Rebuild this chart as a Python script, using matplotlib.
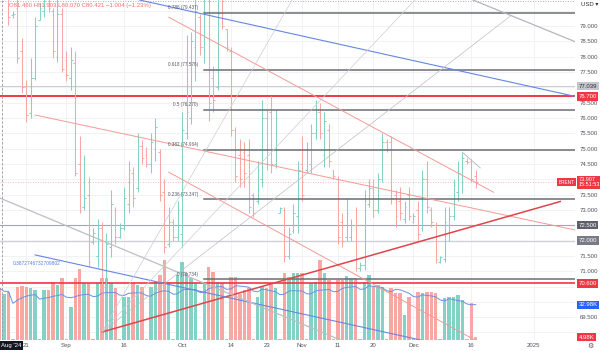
import matplotlib
matplotlib.use("Agg")
import matplotlib.pyplot as plt
import matplotlib.transforms as mtransforms
import numpy as np
import pandas as pd

plt.rcParams['font.family'] = ['Liberation Sans', 'DejaVu Sans']

# === Data ===
# daily bars incl. the short Sunday session, no Saturdays
calendar = pd.date_range('2024-08-14', '2025-01-20')
calendar = calendar[calendar.dayofweek != 5]

opens = [81.46, 80.4, 80.6, 79.35, 79.6, 78.2, 77.0, 76.15, 77.3, 79.2,
         79.5, 80.2, 79.5, 78.0, 79.4, 77.9, 77.3, 77.8, 74.5, 73.1,
         73.5, 71.95, 71.5, 72.4, 70.6, 71.8, 73.0, 72.1, 72.4, 73.2,
         74.2, 73.7, 75.1, 74.8, 74.5, 75.0, 74.9, 73.6, 71.9, 72.6,
         72.1, 72.2, 75.5, 76.0, 78.3, 79.3, 78.3, 80.9, 77.3, 77.0,
         80.0, 78.9, 78.2, 75.6, 74.8, 74.9, 74.8, 73.5, 73.3, 74.0,
         76.0, 76.2, 74.5, 72.9, 73.0, 71.5, 72.3, 72.8, 74.5, 74.3,
         74.5, 75.5, 76.2, 74.8, 75.6, 74.3, 74.0, 72.6, 72.1, 72.1,
         72.5, 71.1, 71.2, 73.2, 73.7, 73.0, 74.0, 75.2, 75.2, 73.5,
         73.3, 72.7, 73.5, 72.6, 73.0, 72.4, 74.0, 73.0, 72.5, 71.3,
         71.4, 72.5, 72.8, 73.6, 73.9, 74.6, 74.6, 74.1]
highs = [81.903, 81.0, 80.7, 79.5, 79.9, 78.6, 77.24, 77.96, 79.3, 79.75,
         80.4, 80.5, 79.6, 79.9, 79.6, 78.2, 78.3, 78.2, 75.4, 74.8,
         74.07, 72.4, 72.7, 72.6, 72.25, 73.65, 73.1, 72.57, 73.75, 74.6,
         74.4, 75.5, 75.28, 75.05, 75.5, 76.0, 75.0, 74.0, 73.1, 72.7,
         73.3, 76.2, 78.7, 78.8, 80.2, 79.4, 81.2, 81.0, 77.7, 80.0,
         80.3, 78.9, 78.3, 75.7, 75.3, 75.2, 75.3, 73.55, 74.6, 76.6,
         76.26, 76.7, 76.26, 73.1, 73.1, 72.45, 73.2, 74.6, 75.4, 75.2,
         75.8, 76.6, 76.5, 76.2, 75.8, 74.3, 74.1, 72.9, 73.4, 72.7,
         73.1, 71.3, 73.65, 74.0, 74.0, 74.2, 75.5, 75.3, 75.4, 73.65,
         73.75, 73.3, 73.75, 72.9, 73.3, 74.3, 74.6, 73.1, 72.6, 71.5,
         73.1, 73.1, 74.0, 74.6, 74.85, 74.7, 74.65, 74.3]
lows = [80.07, 80.0, 79.03, 79.25, 77.8, 76.8, 75.87, 76.0, 77.24, 79.2,
        79.3, 79.45, 77.96, 77.83, 77.5, 77.2, 76.9, 74.1, 72.9, 73.0,
        71.14, 71.9, 71.15, 70.3, 70.4, 71.46, 71.9, 72.08, 72.34, 72.9,
        73.1, 73.6, 74.5, 74.4, 74.2, 74.6, 73.3, 71.6, 71.8, 72.0,
        72.0, 71.8, 75.3, 75.8, 77.2, 78.05, 77.8, 75.9, 76.2, 76.9,
        78.9, 78.2, 75.4, 73.9, 73.75, 73.75, 72.9, 72.77, 73.2, 73.75,
        74.3, 74.2, 74.37, 72.9, 71.3, 71.4, 72.25, 72.25, 73.3, 74.2,
        74.2, 75.3, 75.3, 74.4, 74.4, 74.0, 71.9, 71.8, 72.0, 72.0,
        71.0, 71.0, 71.04, 73.1, 72.77, 72.9, 73.9, 74.9, 73.2, 72.45,
        72.67, 72.57, 72.67, 72.57, 72.0, 72.3, 72.9, 72.45, 71.27, 71.27,
        71.3, 72.0, 72.67, 73.3, 73.55, 74.5, 73.9, 73.7]
closes = [80.421, 80.8, 79.3, 79.4, 77.95, 77.0, 76.1, 77.3, 79.0, 79.6,
          80.2, 79.6, 78.2, 79.4, 77.6, 77.4, 77.9, 74.2, 73.0, 73.4,
          71.3, 72.25, 72.4, 70.5, 71.9, 73.2, 72.1, 72.4, 73.4, 74.3,
          73.4, 75.1, 74.7, 74.5, 75.2, 75.7, 73.5, 71.8, 72.6, 72.1,
          73.0, 75.6, 76.2, 78.5, 79.5, 78.3, 80.9, 76.5, 76.6, 79.4,
          79.0, 78.3, 75.6, 74.1, 74.0, 74.2, 73.1, 72.9, 74.3, 76.0,
          74.9, 74.5, 76.0, 73.05, 71.5, 72.2, 72.9, 74.3, 73.5, 75.0,
          75.5, 76.2, 75.5, 75.9, 74.6, 74.1, 72.1, 72.0, 72.9, 72.5,
          71.1, 71.2, 73.3, 73.7, 73.0, 74.0, 75.2, 75.0, 73.4, 72.8,
          72.9, 73.1, 72.8, 72.8, 72.2, 74.0, 73.1, 72.6, 71.4, 71.45,
          72.6, 72.8, 73.8, 74.2, 74.7, 74.55, 74.0, 73.907]
volume_k = [47.6, 42.3, 44.7, 3, 48.5, 49.6, 49, 47.6, 46.2, 3,
            46.2, 46.2, 53.4, 50.5, 56.3, 3, 31.5, 56.3, 64.2, 52.5,
            52.5, 3, 52.5, 56.3, 56.3, 52, 47.6, 3, 40.3, 40.3,
            52, 50.5, 49, 3, 49, 53.4, 59.2, 72, 53.4, 3,
            59.2, 70.9, 60.7, 56.3, 52.5, 3, 52, 66, 62.1, 53.4,
            52, 3, 57.8, 57.8, 43, 46, 48, 3, 40, 50,
            48, 52, 47.6, 3, 60.7, 57.8, 60.7, 60.7, 60.7, 3,
            52.5, 53.4, 72, 60.7, 54.5, 3, 54.5, 54.5, 58.5, 57,
            56.3, 3, 53.4, 59.2, 49, 50.5, 49, 3, 47.6, 43.2,
            43.2, 24.3, 40.3, 3, 44.7, 43.2, 44.7, 44.7, 43.2, 3,
            38.8, 39.7, 40.3, 41.8, 37.4, 3, 35, 4.98]

price_ticks = [69.5, 71.0, 71.5, 73.0, 73.5, 74.5, 75.0, 75.5, 76.0, 76.5,
               77.5, 78.0, 78.5, 79.0]
tick_dates = ['2024-08-21', '2024-09-01', '2024-09-16', '2024-10-01', '2024-10-14',
              '2024-10-23', '2024-11-01', '2024-11-11', '2024-11-20', '2024-12-01',
              '2024-12-16', '2025-01-01']
tick_labels = ['21', 'Sep', '16', 'Oct', '14', '23', 'Nov', '11', '20', 'Dec', '16', '2025']

fib_ratios = [0.786, 0.618, 0.5, 0.382, 0.236, 0]
fib_prices = [79.437, 77.576, 76.270, 74.964, 73.347, 70.734]
fib_start = '2024-10-07'

last_price = 73.907
crosshair_price = 77.039
legend_text = 'O81.460 H81.903 L80.070 C80.421 \u22121.004 (\u22121.23%)'

# drawings: (date0, price0, date1, price1, mode, color, width)
trendlines = [
    ('2024-09-20', 79.83, '2024-12-17', 77.42, 'line', '#6686e2', 0.8),
    ('2024-12-17', 79.81, '2025-01-01', 79.04, 'line', '#b4b6bd', 0.9),
    ('2024-08-23', 76.095, '2024-12-17', 73.034, 'ray', '#f49a94', 0.7),
    ('2024-09-27', 79.287, '2024-12-22', 73.576, 'seg', '#f49a94', 0.7),
    ('2024-09-27', 74.231, '2024-12-11', 69.137, 'ray', '#f49a94', 0.7),
    ('2024-09-10', 69.015, '2025-01-08', 73.274, 'seg', '#e0454a', 1.1),
    ('2024-08-23', 71.53, '2024-11-22', 69.03, 'ray', '#6686e2', 0.8),
    ('2024-08-14', 73.39, '2024-10-07', 70.607, 'line', '#bcbec4', 0.9),
    ('2024-09-10', 69.016, '2024-10-30', 79.92, 'ray', '#cbcdd2', 0.5),
    ('2024-09-10', 69.016, '2024-11-22', 78.72, 'ray', '#cbcdd2', 0.5),
    ('2024-09-10', 69.016, '2024-12-26', 79.35, 'seg', '#bcbec4', 0.5),
    ('2024-12-13', 74.88, '2024-12-18', 74.37, 'seg', '#b4b6bd', 0.6),
]
blue_label = '0.3872746732709802'

UP = '#84d1c6'
DOWN = '#f7a8a4'
RED = '#f23645'

pos = {d.strftime('%Y-%m-%d'): i for i, d in enumerate(calendar)}
n = len(closes)
x = np.arange(n)
up = np.array(closes) >= np.array(opens)
col = np.where(up, UP, DOWN)

# === Figure ===
fig = plt.figure(figsize=(6, 3.51), dpi=100)
ax_vol = fig.add_axes([0, 11 / 351, 575 / 600, 340 / 351])
ax = ax_vol.twinx()

XLIM = (0.09, 129.3)
YLIM = (68.755, 79.848)
ax_vol.set_xlim(*XLIM)
ax.set_ylim(*YLIM)
ax_vol.set_ylim(2.36, 299.8)

# grid (behind the volume)
tick_pos = [pos[d] for d in tick_dates]
vtrans = mtransforms.blended_transform_factory(ax_vol.transData, ax_vol.transAxes)
htrans = mtransforms.blended_transform_factory(ax_vol.transAxes, ax.transData)
for tp in tick_pos:
    ax_vol.plot([tp, tp], [0, 1], transform=vtrans, color='#f0f2f6', lw=0.7, zorder=0)
for lvl in np.arange(69.0, 80.0, 0.5):
    ax_vol.plot([0, 1], [lvl, lvl], transform=htrans, color='#f0f2f6', lw=0.7, zorder=0)

# volume + MA
ax_vol.bar(x, volume_k, width=0.78, color=col, zorder=2)
vol_ma = pd.Series(volume_k).rolling(20, min_periods=1).mean()
ax_vol.plot(x, vol_ma, color='#6d8fe6', lw=0.7, zorder=3)

# horizontal levels
ax.axhline(76.700, color=RED, lw=1.4, zorder=2)
ax.axhline(70.600, color=RED, lw=1.2, zorder=2)
ax.axhline(72.500, color='#a3a6ae', lw=0.8, zorder=2)
ax.axhline(72.000, color='#cfd1d6', lw=1.0, zorder=2)
ax.axhline(crosshair_price, color='#c2c4ca', lw=0.6, zorder=2)
ax.axhline(last_price, color=RED, lw=0.6, ls=(0, (1, 2)), alpha=0.45, zorder=2)
ax.plot([0.003, 0.003], [0, 1], transform=ax.transAxes, color='#9598a1', lw=0.6,
        ls=(0, (3, 2)), zorder=2)
ax.plot([0, 1], [0.997, 0.997], transform=ax.transAxes, color='#9598a1', lw=0.6,
        ls=(0, (1, 2)), zorder=2)

# OHLC bars
ax.vlines(x, lows, highs, colors=col, lw=0.75, zorder=3)
ax.hlines(opens, x - 0.4, x, colors=col, lw=0.75, zorder=3)
ax.hlines(closes, x, x + 0.4, colors=col, lw=0.75, zorder=3)

# fib retracement
x_fib = pos[fib_start]
for r, p in zip(fib_ratios, fib_prices):
    ax.plot([x_fib, XLIM[1]], [p, p], color='#6b6d73', lw=1.1, zorder=4)
    ax.annotate(f'{r} ({p:.3f})', xy=(x_fib, p), xytext=(-4.5, 3.4),
                textcoords='offset points', ha='right', va='center',
                fontsize=3.3, color='#555861', zorder=5)

# trendlines
for d0, p0, d1, p1, mode, c, w in trendlines:
    x0, x1 = pos[d0], pos[d1]
    if mode == 'line':
        ax.axline((x0, p0), (x1, p1), color=c, lw=w, zorder=4)
    elif mode == 'ray':
        slope = (p1 - p0) / (x1 - x0)
        xe = XLIM[1] + 5
        ax.plot([x0, xe], [p0, p0 + slope * (xe - x0)], color=c, lw=w, zorder=4)
    else:
        ax.plot([x0, x1], [p0, p1], color=c, lw=w, zorder=4)

b2 = trendlines[6]
ax.annotate(blue_label, xy=(pos[b2[0]], b2[1]), xytext=(-16.5, -5.8),
            textcoords='offset points', ha='left', va='center',
            fontsize=3.5, color='#5b7fe0', zorder=5)

ax_vol.set_xlim(*XLIM)
ax.set_ylim(*YLIM)

# axes styling
for a in (ax, ax_vol):
    for s in a.spines.values():
        s.set_visible(False)
ax_vol.yaxis.set_visible(False)
ax_vol.set_xticks(tick_pos)
ax_vol.set_xticklabels(tick_labels)
ax_vol.tick_params(axis='x', length=0, labelsize=4.3, colors='#50535e', pad=2.2)
ax.set_yticks(price_ticks)
ax.set_yticklabels([f'{t:.3f}' for t in price_ticks])
ax.tick_params(axis='y', length=0, labelsize=4.3, colors='#50535e', pad=3.6)

# price scale label boxes
ytr = ax.get_yaxis_transform()
def price_box(val, text, fc, tc='white'):
    ax.text(1.006, val, text, transform=ytr, ha='left', va='center', fontsize=4.3,
            color=tc, zorder=10, clip_on=False,
            bbox=dict(boxstyle='square,pad=0.28', fc=fc, ec='none'))

price_box(crosshair_price, f'{crosshair_price:.3f}', '#c4c6cc', '#2a2e39')
price_box(76.700, '76.700', RED)
price_box(72.500, '72.500', '#5d606b')
price_box(72.000, '72.000', '#787b86')
price_box(70.600, '70.600', RED)
ax.text(1.006, last_price, f'{last_price:.3f}\n15:51:53', transform=ytr, ha='left',
        va='center', fontsize=4.0, color='white', linespacing=1.05, zorder=10,
        clip_on=False, bbox=dict(boxstyle='square,pad=0.25', fc=RED, ec='none'))
ax.text(0.9985, last_price, 'BRENT', transform=ytr, ha='right', va='center',
        fontsize=3.4, color='white', zorder=10,
        bbox=dict(boxstyle='square,pad=0.3', fc=RED, ec='none'))

vtr = ax_vol.get_yaxis_transform()
ax_vol.text(1.006, 32.98, '32.98K', transform=vtr, ha='left',
            va='center', fontsize=4.3, color='white', clip_on=False, zorder=10,
            bbox=dict(boxstyle='square,pad=0.28', fc='#2962ff', ec='none'))
ax_vol.text(1.006, volume_k[-1], f'{volume_k[-1]:.2f}K', transform=vtr, ha='left',
            va='center', fontsize=4.3, color='white', clip_on=False, zorder=10,
            bbox=dict(boxstyle='square,pad=0.28', fc=RED, ec='none'))

# legend, currency, time-axis crosshair label, settings icon
ax.text(0.015, 0.985, legend_text, transform=ax.transAxes, ha='left', va='center',
        fontsize=4.3, color='#f0716b', zorder=10)
fig.text(581 / 600, 1 - 5 / 351, 'USD \u25be', ha='left', va='center', fontsize=4.3,
         color='#2a2e39')
fig.text(0.002, 5.5 / 351, "Aug '24", ha='left', va='center', fontsize=4.3, color='white',
         bbox=dict(boxstyle='square,pad=0.3', fc='#131722', ec='none'))
fig.text(590 / 600, 5.5 / 351, '\u2699', ha='center', va='center', fontsize=5,
         color='#50535e', family='DejaVu Sans')

fig.savefig('out.png', dpi=100)
